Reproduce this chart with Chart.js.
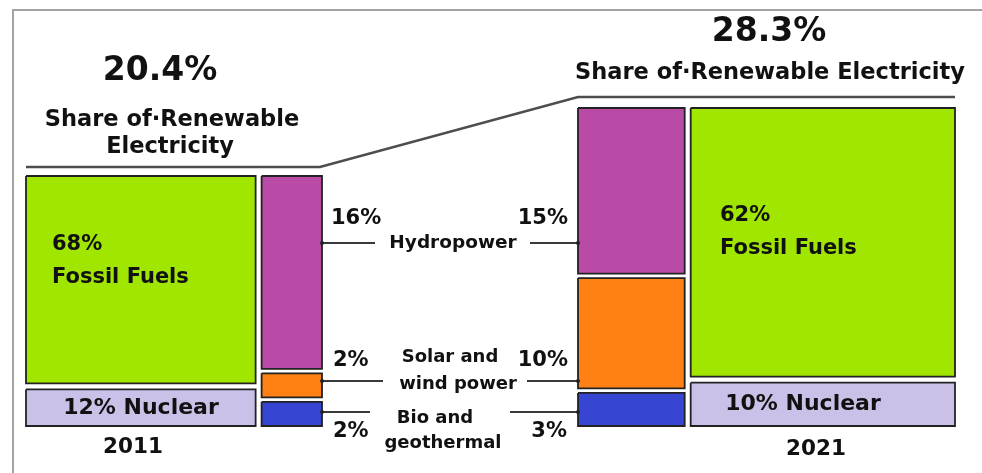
<!DOCTYPE html>
<html>
<head>
<meta charset="utf-8">
<script src="https://cdn.jsdelivr.net/npm/chart.js@4.4.1/dist/chart.umd.min.js"></script>
<style>
  html, body { margin: 0; padding: 0; background: #fff; }
  #wrap { width: 982px; height: 473px; }
</style>
</head>
<body>
<div id="wrap"><canvas id="myChart" width="982" height="473"></canvas></div>
<script>
'use strict';

//********************* Data *************************/
let years = ['2011', '2021'];
let renewableShare = [20.4, 28.3];
let hydroValues = [16, 15];
let solarWindValues = [2, 10];
let bioValues = [2, 3];
let fossilValues = [68, 62];
let nuclearValues = [12, 10];

//********************* Layout / styles *************************/
// each year block lives in its own frame (chart units = canvas px)
let groupFrames = [
  {x0: 26, x1: 322, top: 176, bottom: 426, renewSide: 'right', lineGap: 9},
  {x0: 578, x1: 955, top: 108, bottom: 426, renewSide: 'left', lineGap: 11}
];
let blockGap = 6;
let stackGap = 4.5;

let colors = {
  fossil: '#a1e600',
  nuclear: '#cbc0e7',
  hydro: '#b94aa6',
  solar: '#ff8014',
  bio: '#3746d2',
  edge: '#222222'
};
let FONT = '"DejaVu Sans", Verdana, sans-serif';

//********************** Helpers ****************************/
let datasets = [];
let nuclearBoxes = [];

function addRect(x0, x1, top, bottom, fillColor) {
  // filled area: top edge filled down to the bottom value
  datasets.push({
    data: [{x: x0, y: top}, {x: x1, y: top}],
    showLine: true,
    borderWidth: 0,
    borderColor: 'rgba(0,0,0,0)',
    backgroundColor: fillColor,
    fill: {value: bottom},
    pointRadius: 0,
    order: 2
  });
  // outline on top of the fill
  datasets.push({
    data: [{x: x0, y: top}, {x: x1, y: top}, {x: x1, y: bottom}, {x: x0, y: bottom}, {x: x0, y: top}],
    showLine: true,
    borderWidth: 1.8,
    borderColor: colors.edge,
    fill: false,
    pointRadius: 0,
    order: 1
  });
}

function buildYear(i) {
  let f = groupFrames[i];
  let renewWidth = (f.x1 - f.x0) * renewableShare[i] / 100;
  let renew, other;
  if (f.renewSide === 'right') {
    renew = [f.x1 - renewWidth, f.x1];
    other = [f.x0, f.x1 - renewWidth - blockGap];
  } else {
    renew = [f.x0, f.x0 + renewWidth];
    other = [f.x0 + renewWidth + blockGap, f.x1];
  }

  // renewable column, top to bottom
  let parts = [hydroValues[i], solarWindValues[i], bioValues[i]];
  let partColors = [colors.hydro, colors.solar, colors.bio];
  let partsTotal = parts.reduce((a, b) => a + b, 0);
  let avail = (f.bottom - f.top) - stackGap * (parts.length - 1);
  let y = f.top;
  for (let k = 0; k < parts.length; k++) {
    let h = avail * parts[k] / partsTotal;
    addRect(renew[0], renew[1], y, y + h, partColors[k]);
    y += h + stackGap;
  }

  // fossil + nuclear block
  let rest = [fossilValues[i], nuclearValues[i]];
  let restColors = [colors.fossil, colors.nuclear];
  let restTotal = rest[0] + rest[1];
  let avail2 = (f.bottom - f.top) - blockGap;
  y = f.top;
  for (let k = 0; k < rest.length; k++) {
    let h = avail2 * rest[k] / restTotal;
    addRect(other[0], other[1], y, y + h, restColors[k]);
    if (k === 1) {
      nuclearBoxes.push({x0: other[0], x1: other[1], top: y, bottom: y + h});
    }
    y += h + blockGap;
  }
}

for (let i = 0; i < years.length; i++) {
  buildYear(i);
}

// share bracket line above both blocks
let l = groupFrames[0];
let r = groupFrames[1];
datasets.push({
  data: [
    {x: l.x0, y: l.top - l.lineGap},
    {x: l.x1 - 2, y: l.top - l.lineGap},
    {x: r.x0, y: r.top - r.lineGap},
    {x: r.x1, y: r.top - r.lineGap}
  ],
  showLine: true,
  borderWidth: 2.6,
  borderColor: '#4d4d4d',
  fill: false,
  pointRadius: 0,
  order: 0
});

//********************** Text / decorations plugin *********************/
let decoPlugin = {
  id: 'deco',
  beforeDatasetsDraw(chart) {
    let c = chart.ctx;
    c.save();
    c.strokeStyle = '#a3a3a3';
    c.lineWidth = 2;
    c.beginPath();
    c.moveTo(13, 473);
    c.lineTo(13, 10);
    c.lineTo(982, 10);
    c.stroke();
    c.restore();
  },
  afterDatasetsDraw(chart) {
    let c = chart.ctx;
    let sx = chart.scales.x;
    let sy = chart.scales.y;
    let px = v => sx.getPixelForValue(v);
    let py = v => sy.getPixelForValue(v);

    function txt(str, x, y, size, align) {
      c.font = 'bold ' + size + 'px ' + FONT;
      c.textAlign = align || 'center';
      c.textBaseline = 'middle';
      c.fillStyle = '#111';
      c.fillText(str, px(x), py(y));
    }

    function connector(y, xa, xb, xc, xd) {
      c.strokeStyle = '#3a3a3a';
      c.lineWidth = 2;
      c.beginPath();
      c.moveTo(px(xa), py(y));
      c.lineTo(px(xb), py(y));
      c.moveTo(px(xc), py(y));
      c.lineTo(px(xd), py(y));
      c.stroke();
      c.fillStyle = '#222';
      c.beginPath();
      c.arc(px(xa), py(y), 2, 0, Math.PI * 2);
      c.arc(px(xd), py(y), 2, 0, Math.PI * 2);
      c.fill();
    }

    c.save();
    // headline shares
    txt(renewableShare[0] + '%', 160, 71, 33);
    txt('Share of\u00b7Renewable', 172, 120, 22.5);
    txt('Electricity', 170, 147, 22.5);
    txt(renewableShare[1] + '%', 769, 32, 33);
    txt('Share of\u00b7Renewable Electricity', 770, 73, 22.5);

    // block labels
    let n0 = nuclearBoxes[0];
    let n1 = nuclearBoxes[1];
    txt(fossilValues[0] + '%', 52, 245, 21, 'left');
    txt('Fossil Fuels', 52, 278, 21, 'left');
    txt(nuclearValues[0] + '% Nuclear', 141, (n0.top + n0.bottom) / 2 + 1, 22);
    txt(fossilValues[1] + '%', 720, 216, 21, 'left');
    txt('Fossil Fuels', 720, 249, 21, 'left');
    txt(nuclearValues[1] + '% Nuclear', 803, (n1.top + n1.bottom) / 2, 22);

    // years
    txt(years[0], 133, 447, 21.5);
    txt(years[1], 816, 449, 21.5);

    // renewable breakdown
    connector(243, 322, 375, 530, 578);
    connector(381, 322, 383, 527, 578);
    connector(412, 322, 370, 510, 578);

    txt(hydroValues[0] + '%', 331, 219, 21, 'left');
    txt(hydroValues[1] + '%', 568, 219, 21, 'right');
    txt('Hydropower', 453, 243, 18.5);

    txt(solarWindValues[0] + '%', 333, 361, 21, 'left');
    txt(solarWindValues[1] + '%', 568, 361, 21, 'right');
    txt('Solar and', 450, 357, 18);
    txt('wind power', 458, 384, 18);

    txt(bioValues[0] + '%', 333, 432, 21, 'left');
    txt(bioValues[1] + '%', 567, 432, 21, 'right');
    txt('Bio and', 435, 418, 18);
    txt('geothermal', 443, 443, 18);
    c.restore();
  }
};

//********************** Chart *********************/
const ctx = document.getElementById('myChart').getContext('2d');

const myChart = new Chart(ctx, {
  type: 'scatter',
  data: {datasets: datasets},
  options: {
    responsive: false,
    animation: false,
    layout: {padding: 0},
    plugins: {
      legend: {display: false},
      tooltip: {enabled: false}
    },
    scales: {
      x: {type: 'linear', min: 0, max: 982, display: false},
      y: {type: 'linear', min: 0, max: 473, reverse: true, display: false}
    },
    elements: {
      line: {tension: 0},
      point: {radius: 0}
    }
  },
  plugins: [decoPlugin]
});
</script>
</body>
</html>
